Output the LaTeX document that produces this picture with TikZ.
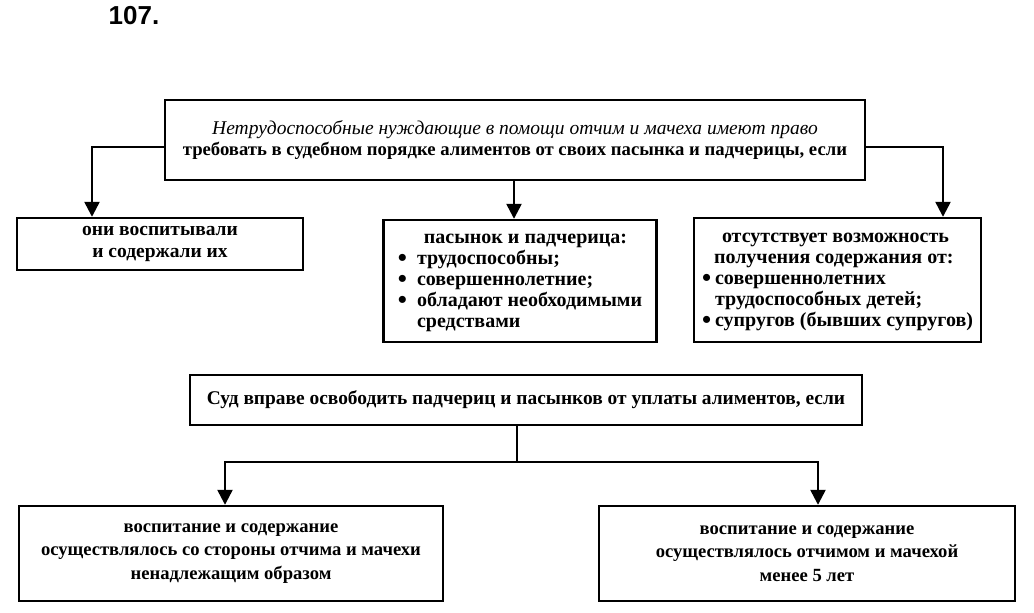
\documentclass[tikz,border=0pt]{standalone}
\usepackage{fontspec}
\usepackage{graphicx}
\setmainfont{Liberation Serif}
\newfontfamily\titlefont{Liberation Sans}
\usetikzlibrary{arrows.meta}
\tikzset{
  box/.style={draw, line width=2.4pt, rectangle, inner sep=0pt, align=center},
  arr/.style={line width=2.4pt, -{Triangle[length=15pt,width=15pt]}},
  conn/.style={line width=2.4pt},
}
\newcommand{\bsz}[2]{\fontsize{#1}{#2}\selectfont\bfseries}
\newcommand{\bigdot}{\smash{\raisebox{-0.1em}{\scalebox{1.3}{\textbullet}}}}
\begin{document}
\begin{tikzpicture}[x=1pt,y=-1pt]
\useasboundingbox (0,0) rectangle (1034,613);
\node[font=\titlefont\bfseries\fontsize{26}{26}\selectfont] (title) at (134,16) {107.};
\node[box, minimum width=700pt, minimum height=80pt, font=\bsz{18.7}{21}] (top) at (515,140)
  {{\mdseries\itshape\fontsize{19.5}{21}\selectfont Нетрудоспособные нуждающие в помощи отчим и мачеха имеют право}\\
   требовать в судебном порядке алиментов от своих пасынка и падчерицы, если};
\node[box, minimum width=286pt, minimum height=52pt, font=\bsz{19.5}{22}] (b1) at (160,244)
  {они воспитывали\\ и содержали их};
\node[box, minimum width=273pt, minimum height=122pt, font=\bsz{20}{21}] (b2) at (520,281)
  {\begin{tabular}{@{}l@{\hspace{0.5em}}l@{}}
   \multicolumn{2}{@{}l@{}}{\hspace{1.3em}пасынок и падчерица:}\\
   \bigdot & трудоспособны;\\
   \bigdot & совершеннолетние;\\
   \bigdot & обладают необходимыми\\
   & средствами
   \end{tabular}};
\node[box, minimum width=287pt, minimum height=124pt, font=\bsz{20}{21}] (b3) at (837.5,280)
  {\begin{tabular}{@{}l@{\hspace{0.2em}}l@{}}
   \multicolumn{2}{@{}l@{}}{\hspace{20pt}отсутствует возможность}\\
   \multicolumn{2}{@{}l@{}}{\hspace{12pt}получения содержания от:}\\
   \bigdot & совершеннолетних\\
   & трудоспособных детей;\\
   \bigdot & супругов (бывших супругов)
   \end{tabular}};
\node[box, minimum width=672pt, minimum height=50pt, font=\bsz{19.4}{21}] (court) at (526,400)
  {Суд вправе освободить падчериц и пасынков от уплаты алиментов, если};
\node[box, minimum width=424pt, minimum height=95pt, font=\bsz{18.6}{23.5}] (b4) at (231,553.5)
  {воспитание и содержание\\ осуществлялось со стороны отчима и мачехи\\ ненадлежащим образом};
\node[box, minimum width=416pt, minimum height=95pt, font=\bsz{18.6}{23.5}] (b5) at (807,553.5)
  {воспитание и содержание\\ осуществлялось отчимом и мачехой\\ менее 5 лет};
\draw[arr] ([yshift=-7pt]top.west) -| ([xshift=-68pt]b1.north);
\draw[arr] ([yshift=-7pt]top.east) -| ([xshift=105.5pt]b3.north);
\draw[arr] ([xshift=-1pt]top.south) -- ([xshift=-6pt]b2.north);
\coordinate (j) at (517,462);
\draw[conn] ([xshift=-9pt]court.south) -- (j);
\draw[arr] (j) -| ([xshift=-6pt]b4.north);
\draw[arr] (j) -| ([xshift=11pt]b5.north);
\end{tikzpicture}
\end{document}
